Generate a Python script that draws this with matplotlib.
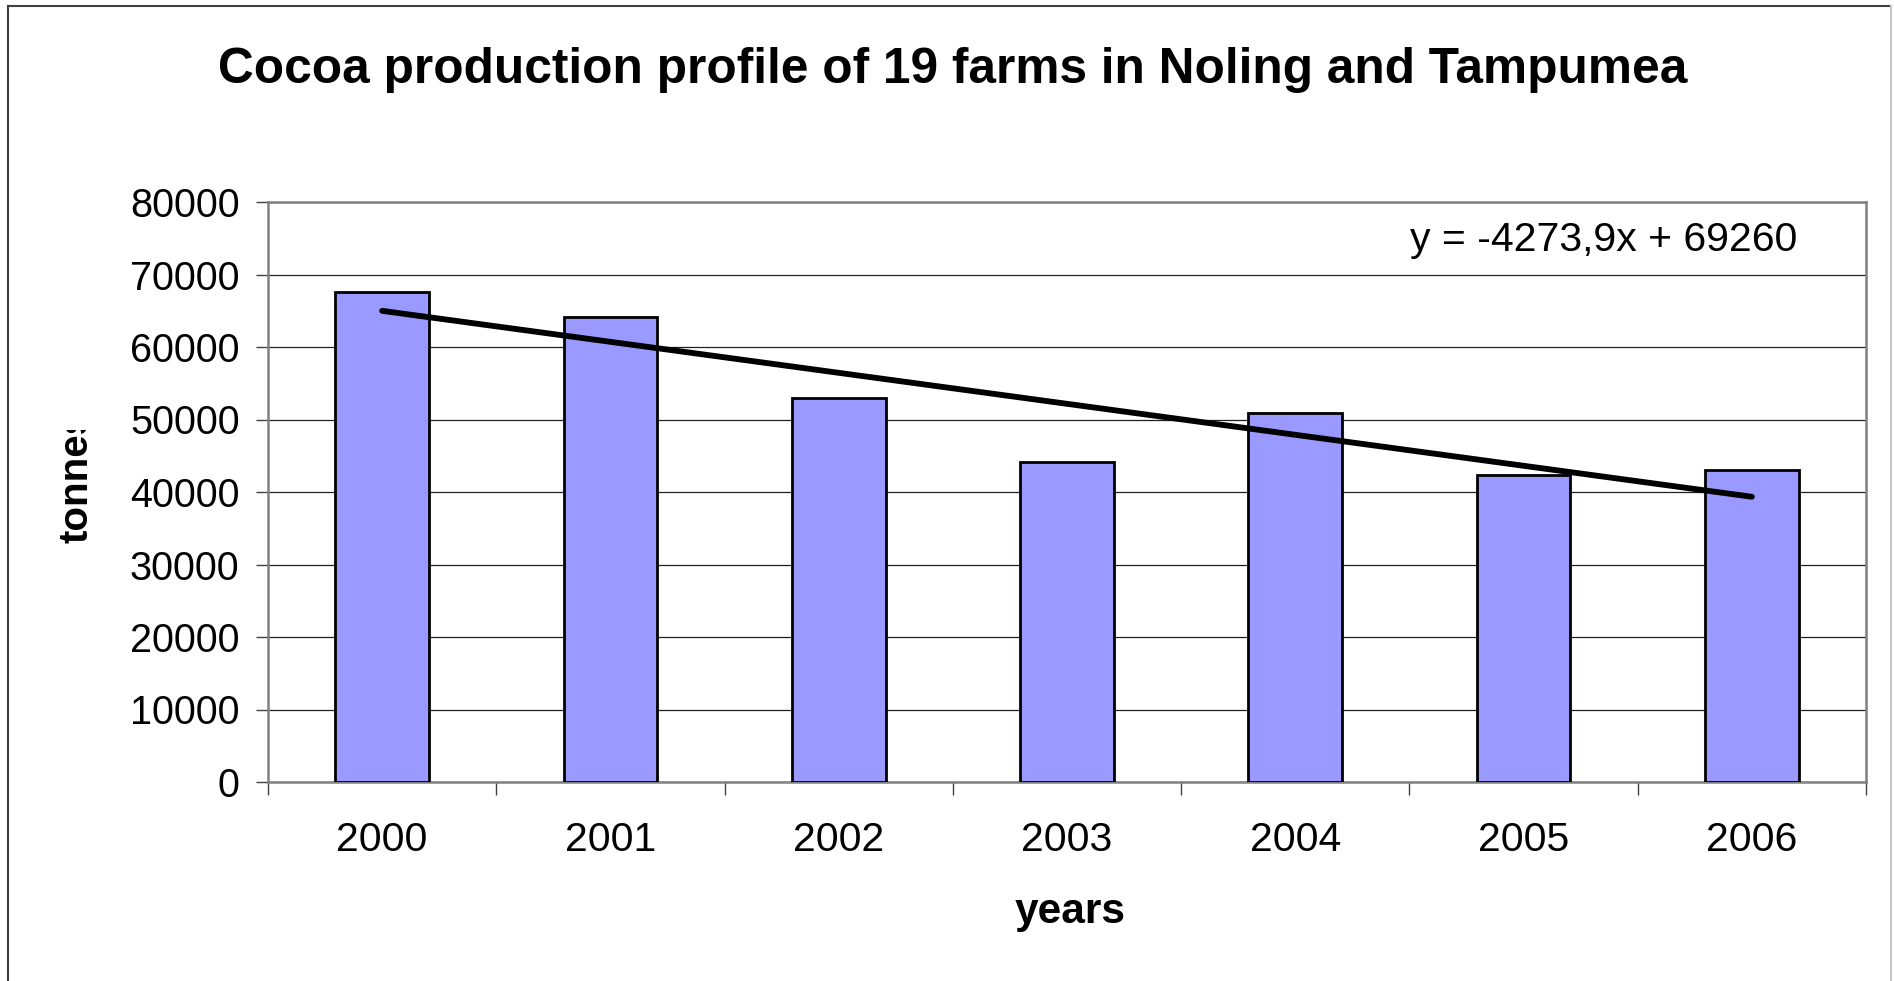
import matplotlib
matplotlib.use("Agg")
import matplotlib.pyplot as plt
from matplotlib.lines import Line2D
from matplotlib.transforms import Bbox, TransformedBbox
import numpy as np

# Data
years = ["2000", "2001", "2002", "2003", "2004", "2005", "2006"]
production = [67650, 64200, 52950, 44100, 50900, 42350, 43000]

# Linear trend (x = 1 .. n)
trend_slope = -4273.9
trend_intercept = 69260

title = "Cocoa production profile of 19 farms in Noling and Tampumea"
x_label = "years"
y_label = "tonnes"
y_ticks = [0, 10000, 20000, 30000, 40000, 50000, 60000, 70000, 80000]

W, H = 1894, 981
DPI = 100
plt.rcParams["font.family"] = ["Liberation Sans", "DejaVu Sans"]

fig = plt.figure(figsize=(W / DPI, H / DPI), dpi=DPI)
fig.patch.set_facecolor("white")

# Chart-area outline
fig.add_artist(Line2D([8 / W, 8 / W], [0, 1 - 6 / H], transform=fig.transFigure,
                      color="#404040", lw=1.5))
fig.add_artist(Line2D([8 / W, 1891 / W], [1 - 6 / H, 1 - 6 / H], transform=fig.transFigure,
                      color="#404040", lw=1.5))
fig.add_artist(Line2D([1891 / W, 1891 / W], [0, 1 - 6 / H], transform=fig.transFigure,
                      color="#c8c8c8", lw=1.5))

left, right, top, bottom = 268, 1866, 202, 782
ax = fig.add_axes([left / W, 1 - bottom / H, (right - left) / W, (bottom - top) / H])

x = np.arange(1, len(years) + 1)
ax.bar(x, production, width=0.41, color="#9999FF", edgecolor="black",
       linewidth=2.0, zorder=3)

xt = np.array([x[0], x[-1]])
ax.plot(xt, trend_slope * xt + trend_intercept, color="black", lw=4.2,
        solid_capstyle="round", zorder=4)

ax.set_xlim(0.5, len(years) + 0.5)
ax.set_ylim(0, 80000)
ax.set_yticks(y_ticks)
ax.set_yticklabels([str(v) for v in y_ticks], fontsize=28.5)
ax.yaxis.grid(True, color="#202020", lw=0.9, zorder=0)
ax.set_axisbelow(True)

# Category boundaries as major ticks, labels centred on the bars
ax.set_xticks(np.arange(0.5, len(years) + 1.0, 1.0))
ax.set_xticklabels([])
ax.set_xticks(x, minor=True)
ax.set_xticklabels(years, minor=True, fontsize=29.5)
ax.tick_params(axis="x", which="major", direction="out", length=9, width=1.0,
               color="#404040")
ax.tick_params(axis="x", which="minor", length=0, pad=28)
ax.tick_params(axis="y", direction="out", length=9, width=1.0, color="#404040",
               pad=11.5)

for side in ["left", "right", "top", "bottom"]:
    ax.spines[side].set_color("#808080")
    ax.spines[side].set_linewidth(1.8)

ax.text(0.957, 0.9345,
        "y = {:.1f}x + {:d}".format(trend_slope, trend_intercept).replace(".", ","),
        transform=ax.transAxes, ha="right", va="center", fontsize=29.5)

fig.text(953 / W, 1 - 70 / H, title, ha="center", va="center",
         fontsize=35.7, fontweight="bold")
fig.text(1070 / W, 1 - 912 / H, x_label, ha="center", va="center",
         fontsize=30.5, fontweight="bold")

yl = fig.text(76 / W, 1 - 477 / H, y_label, ha="center", va="center",
              rotation=90, fontsize=29, fontweight="bold")
yl.set_clip_box(TransformedBbox(Bbox([[0, 0], [1, 1 - 430 / H]]), fig.transFigure))
yl.set_clip_on(True)

fig.savefig("out.png", dpi=DPI, facecolor="white")
